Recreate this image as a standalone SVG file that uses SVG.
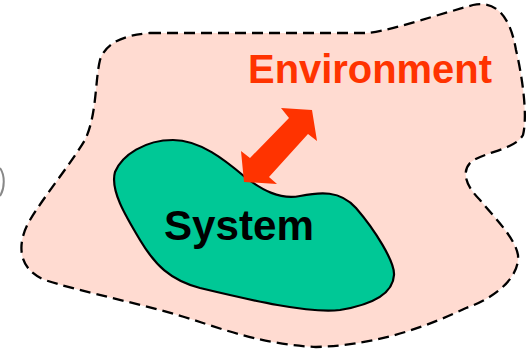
<svg xmlns="http://www.w3.org/2000/svg" width="532" height="351" viewBox="0 0 532 351">
<style>
.env{fill:#FFDBD1;stroke:#000;stroke-width:2.3;stroke-dasharray:11 6}
.sys{fill:#00C896;stroke:#000;stroke-width:2.2}
.lbl{font-family:"Liberation Sans",Arial,sans-serif;font-weight:bold}
</style>
<rect width="532" height="351" fill="#fff"/>
<path d="M0,168 C5,175 5,188 0,196" fill="none" stroke="#888" stroke-width="2"/>
<g id="environment">
<path class="env" d="M150,33 L366,33 C385,32 420,20 473,5 C495,0 510,15 516,50 C522,75 528,115 523,135 C515,150 482,152 470,163 C462,172 465,185 480,200 C495,218 515,238 518,255 C520,280 490,300 466,308 C430,325 380,345 316,347 C270,345 230,332 200,322 C150,305 80,292 45,280 C15,268 18,240 30,220 C45,195 70,165 85,140 C97,115 95,80 100,60 C106,42 125,35 150,33 Z"/>
<text class="lbl" x="248" y="83" font-size="40" fill="#FF3300" textLength="244" lengthAdjust="spacingAndGlyphs">Environment</text>
</g>
<g id="system">
<path class="sys" d="M173,140 C200,140 225,160 245,177 C262,190 280,200 300,196 C320,192 340,190 356,208 C375,230 395,262 394,275 C393,295 370,305 340,310 C310,314 250,300 200,288 C170,280 155,265 140,240 C125,215 110,190 115,172 C122,155 145,140 173,140 Z"/>
<text class="lbl" x="164" y="240" font-size="42" fill="#000" textLength="150" lengthAdjust="spacingAndGlyphs">System</text>
</g>
<g id="connectors">
<polygon fill="#FF3300" points="312,110 317,141 308,134 269,177 277,184 244,182 241,151 250,158 289,118 281,108"/>
</g>
</svg>
